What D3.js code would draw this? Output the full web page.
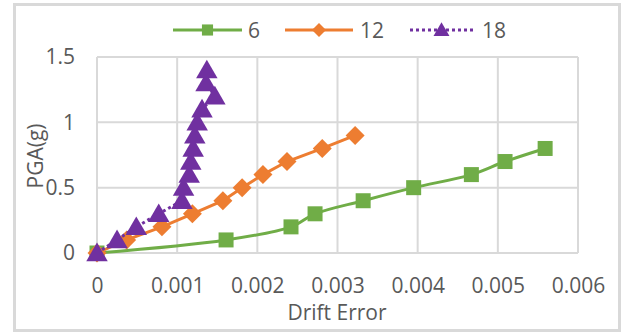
<!DOCTYPE html>
<html>
<head>
<meta charset="utf-8">
<script src="https://cdn.jsdelivr.net/npm/d3@7"></script>
<style>
  html, body { margin: 0; padding: 0; background: #fff; }
  svg { display: block; }
  text { font-family: "Open Sans", "Noto Sans", sans-serif; fill: #595959; }
</style>
</head>
<body>
<svg id="chart" width="625" height="336"></svg>
<script>
// Drift error vs. PGA for three storey counts
const seriesNames = ["6", "12", "18"];
const seriesColors = ["#70AD47", "#ED7D31", "#7030A0"];

const drift6 = [0, 0.00161, 0.00242, 0.00272, 0.00332, 0.00395, 0.00467, 0.00509, 0.00559];
const pga6   = [0, 0.1, 0.2, 0.3, 0.4, 0.5, 0.6, 0.7, 0.8];

const drift12 = [0, 0.00037, 0.00081, 0.00119, 0.00157, 0.00181, 0.00207, 0.00237, 0.00281, 0.00322];
const pga12   = [0, 0.1, 0.2, 0.3, 0.4, 0.5, 0.6, 0.7, 0.8, 0.9];

const drift18 = [0, 0.00025, 0.00049, 0.00077, 0.00106, 0.00108, 0.00115, 0.00117, 0.0012, 0.00122, 0.00125, 0.00131, 0.00147, 0.00136, 0.00137];
const pga18   = [0, 0.1, 0.2, 0.3, 0.4, 0.5, 0.6, 0.7, 0.8, 0.9, 1.0, 1.1, 1.2, 1.3, 1.4];

const xTicks = [0, 0.001, 0.002, 0.003, 0.004, 0.005, 0.006];
const xTickLabels = ["0", "0.001", "0.002", "0.003", "0.004", "0.005", "0.006"];
const yTicks = [0, 0.5, 1, 1.5];
const yTickLabels = ["0", "0.5", "1", "1.5"];

const xTitle = "Drift Error";
const yTitle = "PGA(g)";

const svg = d3.select("#chart");

// outer chart frame
svg.append("rect")
  .attr("x", 14.5).attr("y", 4.5)
  .attr("width", 605).attr("height", 326)
  .attr("fill", "#fff")
  .attr("stroke", "#d9d9d9").attr("stroke-width", 3);

const plot = { left: 97, right: 578, top: 57, bottom: 253 };

const x = d3.scaleLinear().domain([0, 0.006]).range([plot.left, plot.right]);
const y = d3.scaleLinear().domain([0, 1.5]).range([plot.bottom, plot.top]);

// gridlines
const grid = svg.append("g").attr("stroke", "#d9d9d9").attr("stroke-width", 2);
grid.selectAll("line.v").data(xTicks).join("line")
  .attr("class", "v")
  .attr("x1", d => x(d)).attr("x2", d => x(d))
  .attr("y1", plot.top).attr("y2", plot.bottom);
grid.selectAll("line.h").data(yTicks).join("line")
  .attr("class", "h")
  .attr("x1", plot.left).attr("x2", plot.right)
  .attr("y1", d => y(d)).attr("y2", d => y(d));

// axes (labels only)
const xAxis = svg.append("g")
  .attr("transform", `translate(0,${plot.bottom})`)
  .call(d3.axisBottom(x).tickValues(xTicks).tickSize(0).tickPadding(25)
    .tickFormat((d, i) => xTickLabels[i]));
const yAxis = svg.append("g")
  .attr("transform", `translate(${plot.left},0)`)
  .call(d3.axisLeft(y).tickValues(yTicks).tickSize(0).tickPadding(22)
    .tickFormat((d, i) => yTickLabels[i]));
[xAxis, yAxis].forEach(a => {
  a.select(".domain").remove();
  a.selectAll("text").attr("font-size", 21).attr("fill", "#595959")
    .attr("font-family", "'Open Sans', sans-serif");
});

// axis titles
svg.append("text")
  .attr("x", 337).attr("y", 320)
  .attr("text-anchor", "middle")
  .attr("font-size", 21)
  .text(xTitle);
svg.append("text")
  .attr("transform", "translate(43,156) rotate(-90)")
  .attr("text-anchor", "middle")
  .attr("font-size", 21)
  .text(yTitle);

// marker shapes: square, diamond (square turned 45°), triangle
const symbols = [d3.symbolSquare, d3.symbolSquare, d3.symbolTriangle];
const symbolSizes = [225, 180, 200];
const symbolRotate = [0, 45, 0];
const symbolDy = [0, 0, 2];

const series = [
  { xs: drift6, ys: pga6, curve: d3.curveCatmullRom.alpha(0.5), dash: null },
  { xs: drift12, ys: pga12, curve: d3.curveLinear, dash: null },
  { xs: drift18, ys: pga18, curve: d3.curveLinear, dash: "3,3" }
];

series.forEach((s, k) => {
  const pts = s.xs.map((v, i) => [v, s.ys[i]]);
  const line = d3.line().x(d => x(d[0])).y(d => y(d[1])).curve(s.curve);
  const g = svg.append("g");
  g.append("path")
    .attr("d", line(pts))
    .attr("fill", "none")
    .attr("stroke", seriesColors[k])
    .attr("stroke-width", 3)
    .attr("stroke-dasharray", s.dash);
  g.selectAll("path.m").data(pts).join("path")
    .attr("class", "m")
    .attr("transform", d => `translate(${x(d[0])},${y(d[1]) + symbolDy[k]}) rotate(${symbolRotate[k]})`)
    .attr("d", d3.symbol().type(symbols[k]).size(symbolSizes[k]))
    .attr("fill", seriesColors[k]);
});

// legend
const legendItems = [
  { x0: 173, x1: 242, tx: 248 },
  { x0: 285, x1: 353, tx: 360 },
  { x0: 410, x1: 473, tx: 482 }
];
const legendY = 30;
const lg = svg.append("g");
legendItems.forEach((it, k) => {
  lg.append("line")
    .attr("x1", it.x0).attr("x2", it.x1)
    .attr("y1", legendY).attr("y2", legendY)
    .attr("stroke", seriesColors[k]).attr("stroke-width", 3)
    .attr("stroke-dasharray", series[k].dash);
  lg.append("path")
    .attr("transform", `translate(${(it.x0 + it.x1) / 2},${legendY + symbolDy[k] * 0.75}) rotate(${symbolRotate[k]})`)
    .attr("d", d3.symbol().type(symbols[k]).size(symbolSizes[k] * 0.55))
    .attr("fill", seriesColors[k]);
  lg.append("text")
    .attr("x", it.tx).attr("y", legendY + 7.5)
    .attr("font-size", 21)
    .text(seriesNames[k]);
});
</script>
</body>
</html>
